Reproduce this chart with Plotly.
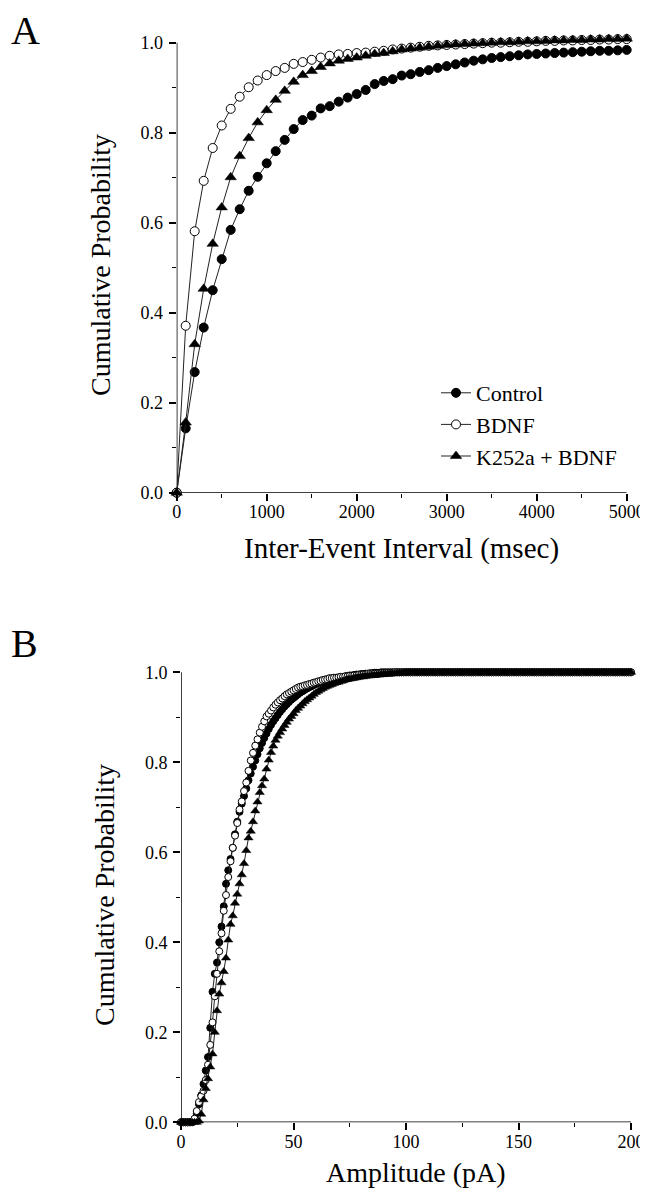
import plotly.graph_objects as go

# ---------------- Panel A data: inter-event interval CDF ----------------
interval_ms = list(range(0, 5001, 100))
control_A = [0.0, 0.143, 0.268, 0.367, 0.450, 0.519, 0.584, 0.630, 0.671, 0.702,
             0.732, 0.759, 0.784, 0.808, 0.828, 0.838, 0.854, 0.859, 0.869, 0.878,
             0.886, 0.895, 0.908, 0.915, 0.919, 0.927, 0.930, 0.935, 0.939, 0.944,
             0.948, 0.952, 0.956, 0.960, 0.963, 0.966, 0.968, 0.970, 0.972, 0.974,
             0.975, 0.976, 0.977, 0.978, 0.979, 0.980, 0.981, 0.982, 0.982, 0.983,
             0.984]
bdnf_A = [0.0, 0.371, 0.581, 0.693, 0.766, 0.816, 0.853, 0.880, 0.901, 0.916,
          0.928, 0.937, 0.944, 0.953, 0.957, 0.962, 0.967, 0.971, 0.974, 0.975,
          0.977, 0.978, 0.980, 0.982, 0.985, 0.987, 0.989, 0.991, 0.993, 0.994,
          0.995, 0.996, 0.997, 0.998, 0.999, 1.000, 1.000, 1.001, 1.002, 1.002,
          1.003, 1.004, 1.004, 1.005, 1.005, 1.006, 1.006, 1.007, 1.007, 1.008,
          1.008]
k252a_A = [0.0, 0.156, 0.330, 0.453, 0.553, 0.634, 0.701, 0.748, 0.788, 0.823,
           0.850, 0.873, 0.893, 0.913, 0.928, 0.937, 0.946, 0.954, 0.960, 0.964,
           0.967, 0.971, 0.975, 0.977, 0.981, 0.985, 0.987, 0.989, 0.991, 0.993,
           0.995, 0.996, 0.997, 0.998, 0.999, 1.000, 1.001, 1.001, 1.002, 1.003,
           1.003, 1.004, 1.005, 1.005, 1.006, 1.006, 1.007, 1.007, 1.008, 1.008,
           1.009]

# ---------------- Panel B data: amplitude CDF ----------------
amplitude_pA = list(range(0, 201))
control_B = [0.0, 0.0, 0.0, 0.0, 0.0, 0.0, 0.004, 0.02, 0.04, 0.06,
             0.085, 0.115, 0.145, 0.21, 0.29, 0.33, 0.355, 0.40, 0.435, 0.48,
             0.53, 0.56, 0.585, 0.61, 0.64, 0.668, 0.69, 0.708, 0.725, 0.742,
             0.76, 0.775, 0.79, 0.804, 0.818, 0.831, 0.843, 0.854, 0.864, 0.874,
             0.883, 0.891, 0.898, 0.905, 0.912, 0.918, 0.924, 0.929, 0.934, 0.939,
             0.943, 0.947, 0.951, 0.955, 0.958, 0.961, 0.964, 0.967, 0.969, 0.972,
             0.974, 0.976, 0.978, 0.979, 0.981, 0.982, 0.984, 0.985, 0.986, 0.987,
             0.988, 0.989, 0.990, 0.991, 0.992, 0.993, 0.993, 0.994, 0.995, 0.995,
             0.996, 0.996, 0.997, 0.997, 0.998, 0.998, 0.999, 0.999, 0.999, 1.0,
             1.0, 1.0, 1.0, 1.0, 1.0, 1.0, 1.0, 1.0, 1.0, 1.0,
             1.0, 1.0, 1.0, 1.0, 1.0, 1.0, 1.0, 1.0, 1.0, 1.0,
             1.0, 1.0, 1.0, 1.0, 1.0, 1.0, 1.0, 1.0, 1.0, 1.0,
             1.0, 1.0, 1.0, 1.0, 1.0, 1.0, 1.0, 1.0, 1.0, 1.0,
             1.0, 1.0, 1.0, 1.0, 1.0, 1.0, 1.0, 1.0, 1.0, 1.0,
             1.0, 1.0, 1.0, 1.0, 1.0, 1.0, 1.0, 1.0, 1.0, 1.0,
             1.0, 1.0, 1.0, 1.0, 1.0, 1.0, 1.0, 1.0, 1.0, 1.0,
             1.0, 1.0, 1.0, 1.0, 1.0, 1.0, 1.0, 1.0, 1.0, 1.0,
             1.0, 1.0, 1.0, 1.0, 1.0, 1.0, 1.0, 1.0, 1.0, 1.0,
             1.0, 1.0, 1.0, 1.0, 1.0, 1.0, 1.0, 1.0, 1.0, 1.0,
             1.0, 1.0, 1.0, 1.0, 1.0, 1.0, 1.0, 1.0, 1.0, 1.0,
             1.0]
bdnf_B = [0.0, 0.0, 0.0, 0.0, 0.0, 0.001, 0.008, 0.025, 0.045, 0.058,
          0.070, 0.094, 0.128, 0.172, 0.222, 0.28, 0.33, 0.38, 0.42, 0.47,
          0.505, 0.545, 0.58, 0.61, 0.637, 0.665, 0.695, 0.713, 0.736, 0.755,
          0.781, 0.804, 0.821, 0.837, 0.851, 0.866, 0.879, 0.891, 0.902, 0.908,
          0.915, 0.922, 0.928, 0.933, 0.938, 0.942, 0.947, 0.951, 0.954, 0.957,
          0.960, 0.963, 0.966, 0.968, 0.969, 0.971, 0.972, 0.974, 0.975, 0.977,
          0.978, 0.980, 0.981, 0.983, 0.984, 0.985, 0.987, 0.987, 0.988, 0.988,
          0.989, 0.990, 0.990, 0.991, 0.991, 0.992, 0.992, 0.993, 0.993, 0.994,
          0.994, 0.995, 0.995, 0.996, 0.996, 0.996, 0.997, 0.997, 0.997, 0.998,
          0.998, 0.998, 0.999, 0.999, 0.999, 1.0, 1.0, 1.0, 1.0, 1.0,
          1.0, 1.0, 1.0, 1.0, 1.0, 1.0, 1.0, 1.0, 1.0, 1.0,
          1.0, 1.0, 1.0, 1.0, 1.0, 1.0, 1.0, 1.0, 1.0, 1.0,
          1.0, 1.0, 1.0, 1.0, 1.0, 1.0, 1.0, 1.0, 1.0, 1.0,
          1.0, 1.0, 1.0, 1.0, 1.0, 1.0, 1.0, 1.0, 1.0, 1.0,
          1.0, 1.0, 1.0, 1.0, 1.0, 1.0, 1.0, 1.0, 1.0, 1.0,
          1.0, 1.0, 1.0, 1.0, 1.0, 1.0, 1.0, 1.0, 1.0, 1.0,
          1.0, 1.0, 1.0, 1.0, 1.0, 1.0, 1.0, 1.0, 1.0, 1.0,
          1.0, 1.0, 1.0, 1.0, 1.0, 1.0, 1.0, 1.0, 1.0, 1.0,
          1.0, 1.0, 1.0, 1.0, 1.0, 1.0, 1.0, 1.0, 1.0, 1.0,
          1.0, 1.0, 1.0, 1.0, 1.0, 1.0, 1.0, 1.0, 1.0, 1.0,
          1.0]
k252a_B = [0.0, 0.0, 0.0, 0.0, 0.0, 0.0, 0.0, 0.0, 0.003, 0.018,
           0.05, 0.075, 0.097, 0.123, 0.152, 0.20, 0.248, 0.285, 0.31, 0.335,
           0.365, 0.405, 0.44, 0.459, 0.487, 0.507, 0.53, 0.55, 0.575, 0.604,
           0.632, 0.647, 0.668, 0.692, 0.712, 0.733, 0.748, 0.763, 0.785, 0.805,
           0.822, 0.836, 0.849, 0.858, 0.866, 0.874, 0.882, 0.889, 0.896, 0.902,
           0.908, 0.915, 0.920, 0.925, 0.930, 0.935, 0.939, 0.943, 0.947, 0.951,
           0.955, 0.958, 0.961, 0.964, 0.967, 0.969, 0.971, 0.973, 0.975, 0.977,
           0.978, 0.980, 0.981, 0.983, 0.984, 0.985, 0.986, 0.987, 0.988, 0.989,
           0.990, 0.990, 0.991, 0.992, 0.992, 0.993, 0.993, 0.994, 0.994, 0.995,
           0.995, 0.996, 0.996, 0.997, 0.997, 0.997, 0.998, 0.998, 0.999, 0.999,
           1.0, 1.0, 1.0, 1.0, 1.0, 1.0, 1.0, 1.0, 1.0, 1.0,
           1.0, 1.0, 1.0, 1.0, 1.0, 1.0, 1.0, 1.0, 1.0, 1.0,
           1.0, 1.0, 1.0, 1.0, 1.0, 1.0, 1.0, 1.0, 1.0, 1.0,
           1.0, 1.0, 1.0, 1.0, 1.0, 1.0, 1.0, 1.0, 1.0, 1.0,
           1.0, 1.0, 1.0, 1.0, 1.0, 1.0, 1.0, 1.0, 1.0, 1.0,
           1.0, 1.0, 1.0, 1.0, 1.0, 1.0, 1.0, 1.0, 1.0, 1.0,
           1.0, 1.0, 1.0, 1.0, 1.0, 1.0, 1.0, 1.0, 1.0, 1.0,
           1.0, 1.0, 1.0, 1.0, 1.0, 1.0, 1.0, 1.0, 1.0, 1.0,
           1.0, 1.0, 1.0, 1.0, 1.0, 1.0, 1.0, 1.0, 1.0, 1.0,
           1.0, 1.0, 1.0, 1.0, 1.0, 1.0, 1.0, 1.0, 1.0, 1.0,
           1.0]

series_names = ["Control", "BDNF", "K252a + BDNF"]
y_ticks = [0.0, 0.2, 0.4, 0.6, 0.8, 1.0]
y_ticktext = ["0.0", "0.2", "0.4", "0.6", "0.8", "1.0"]
xA_ticks = [0, 1000, 2000, 3000, 4000, 5000]
xB_ticks = [0, 50, 100, 150, 200]

SERIF = "Liberation Serif, Times New Roman, serif"
OFF = 8                 # browser body margin
W, H = 640, 1180        # figure size so that the page does not scroll

styles = [
    dict(symbol="circle", color="black", line=dict(color="black", width=1)),
    dict(symbol="circle", color="white", line=dict(color="black", width=1)),
    dict(symbol="triangle-up", color="black", line=dict(color="black", width=0.5)),
]

fig = go.Figure()

sizes_A = [9, 9, 10]
for name, ys, st, sz in zip(series_names, [control_A, bdnf_A, k252a_A], styles, sizes_A):
    fig.add_trace(go.Scatter(
        x=interval_ms[:len(ys)], y=ys, mode="lines+markers", name=name,
        line=dict(color="#222222", width=1),
        marker=dict(size=sz, **st), cliponaxis=False,
        xaxis="x", yaxis="y", showlegend=True))

sizes_B = [7, 7, 8]
for name, ys, st, sz in zip(series_names, [control_B, bdnf_B, k252a_B], styles, sizes_B):
    fig.add_trace(go.Scatter(
        x=amplitude_pA[:len(ys)], y=ys, mode="lines+markers", name=name,
        line=dict(color="#222222", width=1),
        marker=dict(size=sz, **st), cliponaxis=False,
        xaxis="x2", yaxis="y2", showlegend=False))


def px_x(p):
    # page pixel -> paper fraction
    return (p - OFF) / W


def px_y(p):
    return 1 - (p - OFF) / H


axis_common = dict(
    showline=False,
    ticks="outside", ticklen=7, tickwidth=1.5, tickcolor="black",
    showgrid=False, zeroline=False, automargin=False,
    ticklabeloverflow="allow",
    tickfont=dict(family=SERIF, size=18, color="black"),
)
minor_y = dict(ticks="outside", ticklen=4, tickwidth=1.2, tickcolor="black", dtick=0.1)

# panel pixel geometry (page coords)
A_x0, A_x1, A_y0, A_y1 = 176.7, 626.7, 492.7, 42.7   # y0 -> prob 0, y1 -> prob 1
B_x0, B_x1, B_y0, B_y1 = 181.0, 631.0, 1122.3, 672.3
YTOP = 1.015   # a little headroom above 1.0 so points just over 1 stay visible


def ydomain(y0, y1):
    top = y0 - (y0 - y1) * YTOP
    return [px_y(y0), px_y(top)]


fig.update_layout(
    width=W, height=H,
    margin=dict(l=0, r=0, t=0, b=0),
    paper_bgcolor="white", plot_bgcolor="white",
    xaxis=dict(domain=[px_x(A_x0), px_x(A_x1)], range=[0, 5000],
               tickvals=xA_ticks, anchor="y", ticklabelstandoff=-4,
               minor=dict(ticks="outside", ticklen=4, tickwidth=1.2, tickcolor="black", dtick=500),
               **axis_common),
    yaxis=dict(domain=ydomain(A_y0, A_y1), range=[0, YTOP],
               tickvals=y_ticks, ticktext=y_ticktext, anchor="x", ticklabelstandoff=2,
               minor=minor_y, **axis_common),
    xaxis2=dict(domain=[px_x(B_x0), px_x(B_x1)], range=[0, 200],
                tickvals=xB_ticks, anchor="y2", ticklabelstandoff=-4,
                minor=dict(ticks="outside", ticklen=4, tickwidth=1.2, tickcolor="black", dtick=25),
                **axis_common),
    yaxis2=dict(domain=ydomain(B_y0, B_y1), range=[0, YTOP],
                tickvals=y_ticks, ticktext=y_ticktext, anchor="x2", ticklabelstandoff=2,
                minor=minor_y, **axis_common),
    legend=dict(x=px_x(436), y=px_y(372), xanchor="left", yanchor="top",
                font=dict(family=SERIF, size=22, color="black"),
                bgcolor="rgba(0,0,0,0)", borderwidth=0, tracegroupgap=0),
    showlegend=True,
)

# axis lines: y axis stops at 1.0 like the original
for xr, yr, xmax in [("x", "y", 5000), ("x2", "y2", 200)]:
    fig.add_shape(type="line", xref=xr, yref=yr, x0=0, x1=0, y0=0, y1=1.0,
                  line=dict(color="black", width=1.5), layer="below")
    fig.add_shape(type="line", xref=xr, yref=yr, x0=0, x1=xmax, y0=0, y1=0,
                  line=dict(color="black", width=1.5), layer="below")

annos = [
    dict(text="A", x=px_x(9), y=px_y(31), xanchor="left", yanchor="middle", font_size=40),
    dict(text="B", x=px_x(9), y=px_y(643), xanchor="left", yanchor="middle", font_size=40),
    dict(text="Cumulative Probability", x=px_x(101), y=px_y(265), textangle=-90,
         xanchor="center", yanchor="middle", font_size=28),
    dict(text="Inter-Event Interval (msec)", x=px_x(401), y=px_y(548),
         xanchor="center", yanchor="middle", font_size=29),
    dict(text="Cumulative Probability", x=px_x(104), y=px_y(895), textangle=-90,
         xanchor="center", yanchor="middle", font_size=28),
    dict(text="Amplitude (pA)", x=px_x(416), y=px_y(1172),
         xanchor="center", yanchor="middle", font_size=28),
]
for a in annos:
    fs = a.pop("font_size")
    fig.add_annotation(xref="paper", yref="paper", showarrow=False,
                       font=dict(family=SERIF, size=fs, color="black"), **a)

fig.write_html("out.html")
